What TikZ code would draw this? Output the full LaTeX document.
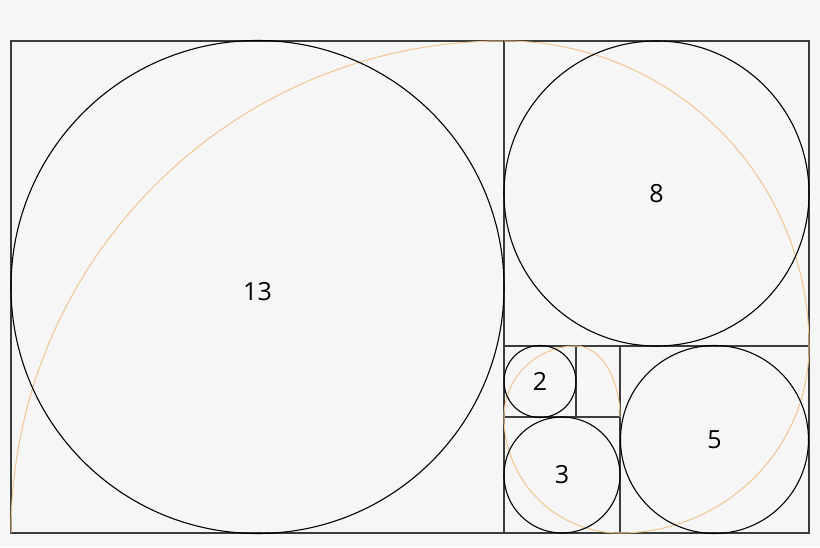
\documentclass[tikz,border=0pt]{standalone}
\usepackage{fontspec}
\setmainfont{Open Sans}
\usepackage{tikz}
\usetikzlibrary{calc}
\definecolor{bgcol}{HTML}{F6F6F6}
\definecolor{edgecol}{HTML}{3C3C3C}
\definecolor{spiral}{HTML}{F2C590}
\tikzset{
  edge/.style={edgecol, line width=1.3pt},
  circ/.style={black, line width=1.1pt},
  spir/.style={spiral, line width=1pt},
  lbl/.style={font=\fontsize{25}{30}\selectfont, inner sep=0pt}
}
\newcommand{\fibcircle}[5][0pt]{ \draw[circ] ( #2 , #3 ) circle ( #4 ); \node[lbl, yshift=#1] (n#5) at ( #2 , #3 ) {#5};}

\begin{document}
\begin{tikzpicture}[x=1pt,y=1pt]
\fill[bgcol] (0,0) rectangle (820,547);
\useasboundingbox (0,0) rectangle (820,547);
% squares
\draw[edge] ( 11 , 14 ) rectangle ( 809 , 506 );
\draw[edge] ( 504 , 14 ) -- ( 504 , 506 );
\draw[edge] ( 504 , 201 ) -- ( 809 , 201 );
\draw[edge] ( 620 , 14 ) -- ( 620 , 201 );
\draw[edge] ( 504 , 130 ) -- ( 620 , 130 );
\draw[edge] ( 576 , 130 ) -- ( 576 , 201 );
% spiral
\draw[spir] ( 11 , 14 ) arc (180:90:492);
\draw[spir] ( 504 , 506 ) arc (90:0:305);
\draw[spir] ( 809 , 201 ) arc (0:-90:189 and 187);
\draw[spir] ( 620 , 14 ) arc (270:180:116);
\draw[spir] ( 504 , 130 ) arc (180:90:72 and 71);
\draw[spir] ( 576 , 201 ) arc (90:0:44 and 71);
% circles
\fibcircle[-5pt]{257.5}{260}{246.5}{13}
\fibcircle{656.5}{353.5}{152.5}{8}
\fibcircle{714.5}{107.5}{94}{5}
\fibcircle{562}{72}{58}{3}
\fibcircle{540}{165.5}{36}{2}
\end{tikzpicture}
\end{document}
